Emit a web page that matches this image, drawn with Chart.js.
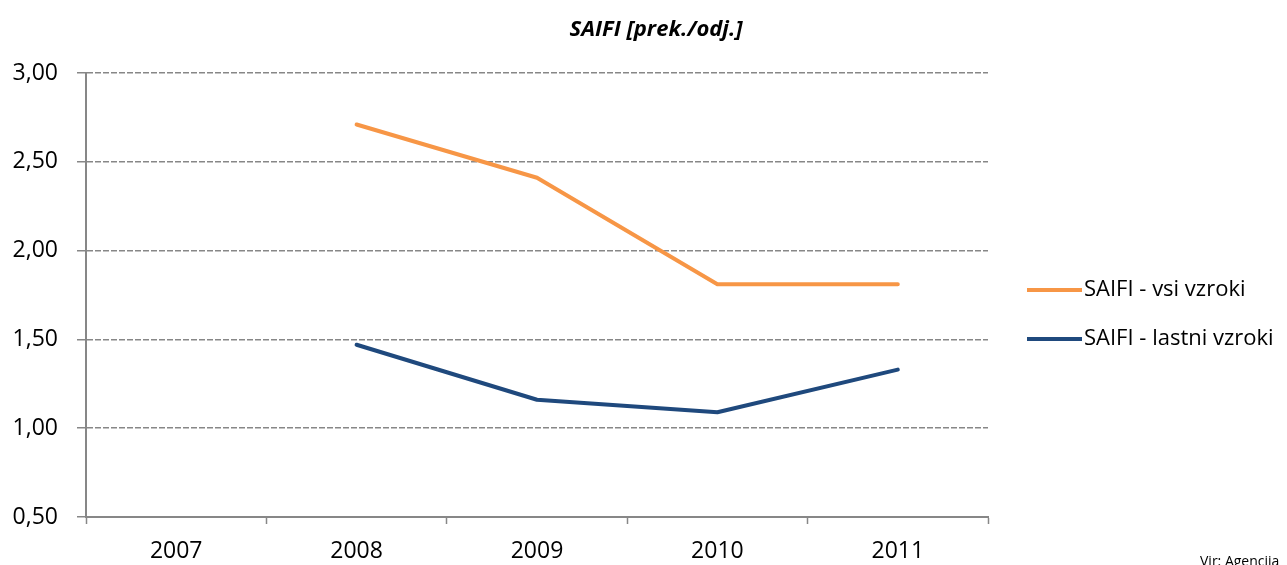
<!DOCTYPE html>
<html lang="sl">
<head>
<meta charset="utf-8">
<title>SAIFI [prek./odj.]</title>
<script src="https://cdn.jsdelivr.net/npm/chart.js@4.4.0/dist/chart.umd.min.js"></script>
<style>
  html, body { margin: 0; padding: 0; background: #fff; }
  #okvir { width: 1287px; height: 565px; position: relative; }
</style>
</head>
<body>
<div id="okvir"><canvas id="grafSaifi"></canvas></div>
<script>
// SAIFI po letih (prekinitve na odjemalca)
const leta = ["2007", "2008", "2009", "2010", "2011"];
const vsiVzroki = [null, 2.71, 2.41, 1.81, 1.81];
const lastniVzroki = [null, 1.47, 1.16, 1.09, 1.33];
const oznakeY = [0.5, 1.0, 1.5, 2.0, 2.5, 3.0];

const naslov = "SAIFI [prek./odj.]";
const vir = "Vir: Agencija";
const pisava = "'Open Sans', 'DejaVu Sans', sans-serif";
const siva = "#878787";

// naslov, legenda in vir narisani ročno, da so na pravem mestu
const dodatki = {
  id: "dodatki",
  afterDraw(chart) {
    const { ctx, chartArea } = chart;
    ctx.save();

    ctx.fillStyle = "#000";
    ctx.font = "italic bold 22px " + pisava;
    ctx.textAlign = "center";
    ctx.textBaseline = "middle";
    ctx.fillText(naslov, 656, 30);

    ctx.font = "22px " + pisava;
    ctx.textAlign = "left";
    chart.data.datasets.forEach((ds, i) => {
      const y = chartArea.top + 217 + i * 49;
      const x = chartArea.right + 39;
      ctx.strokeStyle = ds.borderColor;
      ctx.lineWidth = 4;
      ctx.beginPath();
      ctx.moveTo(x, y);
      ctx.lineTo(x + 55, y);
      ctx.stroke();
      ctx.fillStyle = "#000";
      ctx.fillText(ds.label, x + 57, y);
    });

    ctx.font = "14px " + pisava;
    ctx.textBaseline = "top";
    ctx.fillText(vir, 1200, 555);
    ctx.restore();
  }
};

const ctx = document.getElementById("grafSaifi").getContext("2d");
const graf = new Chart(ctx, {
  type: "line",
  data: {
    labels: leta,
    datasets: [
      {
        label: "SAIFI - vsi vzroki",
        data: vsiVzroki,
        borderColor: "#F79646",
        backgroundColor: "#F79646",
        borderWidth: 4,
        pointRadius: 0,
        tension: 0,
        borderCapStyle: "round",
        borderJoinStyle: "round"
      },
      {
        label: "SAIFI - lastni vzroki",
        data: lastniVzroki,
        borderColor: "#1F497D",
        backgroundColor: "#1F497D",
        borderWidth: 4,
        pointRadius: 0,
        tension: 0,
        borderCapStyle: "round",
        borderJoinStyle: "round"
      }
    ]
  },
  options: {
    responsive: true,
    maintainAspectRatio: false,
    animation: false,
    layout: { padding: { top: 73, right: 299, bottom: 0, left: 0 } },
    plugins: {
      legend: { display: false },
      title: { display: false },
      tooltip: { enabled: false }
    },
    scales: {
      x: {
        offset: true,
        afterFit: (s) => { s.height = 48; },
        grid: {
          drawOnChartArea: false,
          drawTicks: true,
          tickLength: 7,
          tickColor: siva,
          tickWidth: 1.5,
          offset: true
        },
        border: { display: true, color: siva, width: 2 },
        ticks: {
          color: "#000",
          padding: 14,
          font: { family: pisava, size: 23 }
        }
      },
      y: {
        min: 0.5,
        max: 3.0,
        afterFit: (s) => { s.width = 86; },
        afterBuildTicks: (s) => { s.ticks = oznakeY.map(v => ({ value: v })); },
        grid: {
          color: siva,
          lineWidth: 1.5,
          drawTicks: true,
          tickLength: 9,
          tickColor: siva,
          tickWidth: 1.5
        },
        border: { display: true, color: siva, width: 2, dash: [6, 2] },
        ticks: {
          color: "#000",
          padding: 19,
          font: { family: pisava, size: 23 },
          callback: (v) => Number(v).toFixed(2).replace(".", ",")
        }
      }
    }
  },
  plugins: [dodatki]
});
</script>
</body>
</html>
